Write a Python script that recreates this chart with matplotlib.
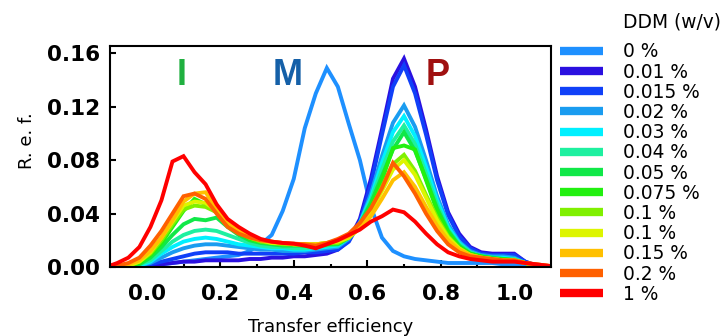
import matplotlib
matplotlib.use('Agg')
import matplotlib.pyplot as plt
from matplotlib.lines import Line2D

# transfer efficiency bin centres
efficiency = [-0.11, -0.08, -0.05, -0.02, 0.01, 0.04, 0.07, 0.10, 0.13, 0.16,
              0.19, 0.22, 0.25, 0.28, 0.31, 0.34, 0.37, 0.40, 0.43, 0.46,
              0.49, 0.52, 0.55, 0.58, 0.61, 0.64, 0.67, 0.70, 0.73, 0.76,
              0.79, 0.82, 0.85, 0.88, 0.91, 0.94, 0.97, 1.00, 1.03, 1.06,
              1.09, 1.12]

ddm_labels = ['0 %', '0.01 %', '0.015 %', '0.02 %', '0.03 %', '0.04 %', '0.05 %',
              '0.075 %', '0.1 %', '0.1 %', '0.15 %', '0.2 %', '1 %']

ddm_colors = ['#1E90FF', '#2A10E0', '#1040F8', '#1A9CF0', '#00F0FF', '#1EF0A0',
              '#10E848', '#22F010', '#80F000', '#DDF500', '#FFC000', '#FF6000',
              '#FF0000']

ref_0 = [0, 0, 0, 0, 0.001, 0.002, 0.003, 0.004, 0.005, 0.006, 0.007, 0.008, 0.009,
         0.012, 0.017, 0.024, 0.042, 0.066, 0.104, 0.130, 0.149, 0.135, 0.107, 0.080,
         0.045, 0.022, 0.012, 0.008, 0.006, 0.005, 0.004, 0.003, 0.003, 0.003, 0.003,
         0.003, 0.002, 0.002, 0.002, 0.001, 0, 0]
ref_001 = [0, 0, 0, 0, 0.001, 0.002, 0.003, 0.004, 0.004, 0.005, 0.005, 0.005, 0.005,
           0.006, 0.006, 0.007, 0.007, 0.008, 0.008, 0.009, 0.010, 0.013, 0.020, 0.036,
           0.066, 0.103, 0.141, 0.156, 0.135, 0.103, 0.068, 0.041, 0.025, 0.015, 0.011,
           0.010, 0.010, 0.010, 0.004, 0.001, 0, 0]
ref_0015 = [0, 0, 0, 0.001, 0.002, 0.004, 0.006, 0.008, 0.010, 0.011, 0.011, 0.011,
            0.010, 0.010, 0.010, 0.010, 0.010, 0.010, 0.011, 0.011, 0.012, 0.013, 0.019,
            0.034, 0.062, 0.099, 0.135, 0.151, 0.130, 0.099, 0.065, 0.039, 0.023, 0.014,
            0.010, 0.009, 0.009, 0.009, 0.004, 0.001, 0, 0]
ref_002 = [0, 0, 0, 0.001, 0.003, 0.007, 0.011, 0.014, 0.016, 0.017, 0.017, 0.016,
           0.015, 0.014, 0.013, 0.013, 0.012, 0.012, 0.012, 0.013, 0.014, 0.015, 0.021,
           0.033, 0.055, 0.083, 0.108, 0.121, 0.105, 0.080, 0.053, 0.032, 0.019, 0.012,
           0.009, 0.008, 0.008, 0.007, 0.003, 0.001, 0, 0]
ref_003 = [0, 0, 0, 0.001, 0.004, 0.010, 0.015, 0.019, 0.021, 0.022, 0.021, 0.019,
           0.017, 0.016, 0.015, 0.014, 0.014, 0.013, 0.013, 0.014, 0.015, 0.016, 0.022,
           0.033, 0.052, 0.078, 0.101, 0.113, 0.098, 0.075, 0.050, 0.030, 0.018, 0.011,
           0.008, 0.007, 0.007, 0.006, 0.003, 0.001, 0, 0]
ref_004 = [0, 0, 0, 0.002, 0.005, 0.012, 0.019, 0.024, 0.027, 0.028, 0.027, 0.024,
           0.021, 0.018, 0.016, 0.015, 0.015, 0.014, 0.014, 0.015, 0.016, 0.017, 0.022,
           0.032, 0.050, 0.073, 0.094, 0.106, 0.092, 0.070, 0.047, 0.028, 0.017, 0.011,
           0.008, 0.007, 0.006, 0.006, 0.003, 0.001, 0, 0]
ref_005 = [0, 0, 0, 0.002, 0.007, 0.015, 0.024, 0.032, 0.036, 0.035, 0.037, 0.030,
           0.024, 0.020, 0.018, 0.017, 0.016, 0.016, 0.016, 0.016, 0.017, 0.017, 0.022,
           0.032, 0.048, 0.068, 0.088, 0.101, 0.087, 0.066, 0.044, 0.027, 0.016, 0.010,
           0.008, 0.007, 0.006, 0.005, 0.003, 0.001, 0, 0]
ref_0075 = [0, 0, 0.001, 0.003, 0.009, 0.018, 0.030, 0.042, 0.051, 0.047, 0.042, 0.033,
            0.026, 0.021, 0.019, 0.018, 0.017, 0.017, 0.016, 0.016, 0.017, 0.018, 0.022,
            0.031, 0.045, 0.065, 0.089, 0.091, 0.088, 0.065, 0.042, 0.026, 0.015, 0.010,
            0.008, 0.006, 0.006, 0.005, 0.003, 0.001, 0, 0]
ref_01a = [0, 0, 0.001, 0.004, 0.010, 0.020, 0.032, 0.043, 0.046, 0.045, 0.041, 0.033,
           0.026, 0.022, 0.019, 0.018, 0.017, 0.017, 0.017, 0.017, 0.018, 0.018, 0.022,
           0.030, 0.043, 0.060, 0.077, 0.084, 0.072, 0.054, 0.037, 0.023, 0.014, 0.009,
           0.007, 0.006, 0.005, 0.005, 0.003, 0.001, 0, 0]
ref_01b = [0, 0, 0.001, 0.004, 0.011, 0.022, 0.034, 0.046, 0.049, 0.048, 0.042, 0.034,
           0.027, 0.022, 0.020, 0.018, 0.018, 0.017, 0.017, 0.017, 0.018, 0.019, 0.022,
           0.029, 0.041, 0.057, 0.073, 0.080, 0.069, 0.052, 0.035, 0.022, 0.014, 0.009,
           0.007, 0.006, 0.005, 0.005, 0.003, 0.001, 0, 0]
ref_015 = [0, 0.0005, 0.002, 0.005, 0.012, 0.022, 0.035, 0.049, 0.055, 0.056, 0.044,
           0.034, 0.027, 0.023, 0.020, 0.019, 0.018, 0.017, 0.017, 0.017, 0.018, 0.020,
           0.023, 0.029, 0.038, 0.051, 0.065, 0.071, 0.060, 0.045, 0.031, 0.020, 0.013,
           0.009, 0.007, 0.006, 0.005, 0.005, 0.003, 0.002, 0.001, 0]
ref_02 = [0, 0.001, 0.003, 0.007, 0.016, 0.027, 0.040, 0.053, 0.055, 0.051, 0.040,
          0.030, 0.025, 0.022, 0.020, 0.019, 0.018, 0.0175, 0.017, 0.016, 0.018, 0.021,
          0.025, 0.033, 0.044, 0.059, 0.078, 0.068, 0.055, 0.040, 0.027, 0.017, 0.011,
          0.008, 0.007, 0.006, 0.005, 0.005, 0.003, 0.002, 0.001, 0]
ref_1 = [0, 0.003, 0.007, 0.015, 0.030, 0.050, 0.079, 0.083, 0.071, 0.062, 0.047,
         0.036, 0.030, 0.025, 0.021, 0.019, 0.018, 0.0175, 0.016, 0.014, 0.017, 0.020,
         0.024, 0.028, 0.034, 0.038, 0.043, 0.041, 0.034, 0.025, 0.017, 0.011, 0.008,
         0.006, 0.005, 0.004, 0.004, 0.004, 0.003, 0.002, 0.001, 0]

series = [ref_0, ref_001, ref_0015, ref_002, ref_003, ref_004, ref_005,
          ref_0075, ref_01a, ref_01b, ref_015, ref_02, ref_1]

W, H = 727, 336
fig = plt.figure(figsize=(W / 100, H / 100), dpi=100)
ax = fig.add_axes([110 / W, 1 - 267 / H, 441 / W, 221 / H])

for vals, col in zip(series, ddm_colors):
    ax.plot(efficiency, vals, color=col, lw=2.8, solid_joinstyle='miter')

ax.set_xlim(-0.1, 1.1)
ax.set_ylim(0, 0.1655)
ax.set_xticks([0.0, 0.2, 0.4, 0.6, 0.8, 1.0])
ax.set_xticks([0.1, 0.3, 0.5, 0.7, 0.9], minor=True)
ax.set_yticks([0.0, 0.04, 0.08, 0.12, 0.16])
ax.set_xticklabels(['0.0', '0.2', '0.4', '0.6', '0.8', '1.0'])
ax.set_yticklabels(['0.00', '0.04', '0.08', '0.12', '0.16'])
for lab in ax.get_xticklabels() + ax.get_yticklabels():
    lab.set_fontweight('bold')
    lab.set_fontsize(15.5)
ax.tick_params(axis='x', which='major', direction='in', length=5, width=1.5, pad=12)
ax.tick_params(axis='x', which='minor', direction='in', length=2.5, width=1.5)
ax.tick_params(axis='y', which='major', direction='in', length=4, width=1.5, pad=7)
for sp in ax.spines.values():
    sp.set_linewidth(1.5)

ax.set_xlabel('Transfer efficiency', fontsize=13, labelpad=10)
fig.text(27 / W, 1 - 141 / H, 'R. e. f.', rotation=90, fontsize=13,
         ha='center', va='center')

# region letters
big = dict(fontsize=26, fontweight='bold', family='Liberation Sans',
           ha='center', va='baseline')
ax.text(0.094, 0.136, 'I', color='#20B040', **big)
ax.text(0.383, 0.136, 'M', color='#1560A8', **big)
ax.text(0.792, 0.136, 'P', color='#A01010', **big)

# legend
fig.text(623 / W, 1 - 27 / H, 'DDM (w/v)', fontsize=13.4, ha='left', va='baseline')
for i, (lab, col) in enumerate(zip(ddm_labels, ddm_colors)):
    y = 50.7 + 20.2 * i
    fig.add_artist(Line2D([560 / W, 603 / W], [1 - y / H, 1 - y / H],
                          transform=fig.transFigure, color=col, lw=6,
                          solid_capstyle='butt'))
    fig.text(623 / W, 1 - (y + 6.7) / H, lab, fontsize=13.4,
             ha='left', va='baseline')

fig.savefig('out.png', dpi=100)
